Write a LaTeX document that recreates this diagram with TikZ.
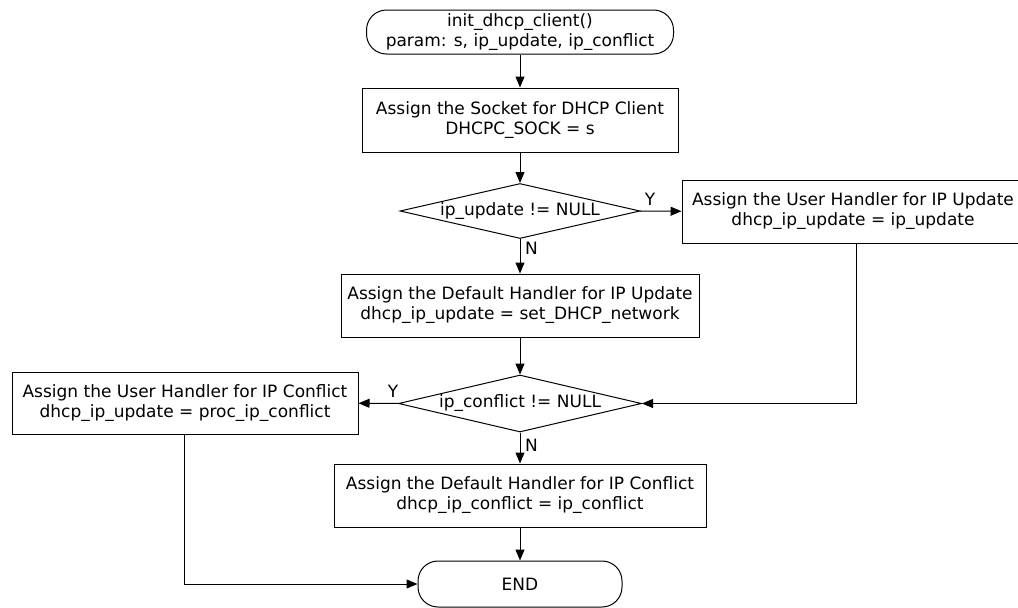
\documentclass[tikz,border=0pt]{standalone}
\usepackage{fontspec}
\setmainfont{DejaVu Sans}
\usetikzlibrary{shapes.geometric,arrows.meta}
\begin{document}
\begin{tikzpicture}[x=1pt,y=-1pt]
\tikzset{
  base/.style={draw, line width=1pt, font=\fontsize{17}{20}\selectfont, align=center, inner sep=0pt},
  procbox/.style={base, rectangle},
  term/.style={base, rectangle, rounded corners=20pt},
  decision/.style={base, diamond, aspect=4.36},
  flow/.style={line width=1pt, -{Triangle[length=11pt,width=9pt]}},
  lbl/.style={font=\fontsize{17}{20}\selectfont, inner sep=0pt}
}
\useasboundingbox (0,0) rectangle (1018,608);
\clip (0,0) rectangle (1018,608);
\fill[white] (0,0) rectangle (1018,608);

\node[term, minimum width=307pt, minimum height=44pt] (start) at (520,32)
  {init\_dhcp\_client()\\param: s, ip\_update, ip\_conflict};
\node[procbox, minimum width=316pt, minimum height=64pt] (sock) at (520,120)
  {Assign the Socket for DHCP Client\\DHCPC\_SOCK = s};
\node[decision, minimum width=240pt, minimum height=55pt] (dup) at (520,211)
  {ip\_update != NULL};
\node[procbox, minimum width=342pt, minimum height=63pt] (uup) at (853,211.5)
  {Assign the User Handler for IP Update\\dhcp\_ip\_update = ip\_update};
\node[procbox, minimum width=358pt, minimum height=63pt] (dfu) at (520,305.5)
  {Assign the Default Handler for IP Update\\dhcp\_ip\_update = set\_DHCP\_network};
\node[decision, minimum width=243pt, minimum height=57pt] (dcf) at (520,403.5)
  {ip\_conflict != NULL};
\node[procbox, minimum width=346pt, minimum height=62pt] (ucf) at (185,403)
  {Assign the User Handler for IP Conflict\\dhcp\_ip\_update = proc\_ip\_conflict};
\node[procbox, minimum width=372pt, minimum height=63pt] (dfc) at (520,495.5)
  {Assign the Default Handler for IP Conflict\\dhcp\_ip\_conflict = ip\_conflict};
\node[term, minimum width=204pt, minimum height=46pt] (fin) at (520,584) {END};

\draw[flow] (start) -- (sock);
\draw[flow] (sock) -- (dup);
\draw[flow] (dup) -- (uup);
\draw[flow] (dup) -- (dfu);
\draw[flow] (dfu) -- (dcf);
\draw[flow] (dcf) -- (ucf);
\draw[flow] (dcf) -- (dfc);
\draw[flow] (dfc) -- (fin);
\draw[flow] (uup.south -| 856,0) |- (dcf.east);
\draw[flow] (ucf.south -| 184,0) |- (fin.west);

\node[lbl] (y1) at (650,199) {Y};
\node[lbl, anchor=west] (n1) at (525,248) {N};
\node[lbl] (y2) at (393,391) {Y};
\node[lbl, anchor=west] (n2) at (525,445) {N};
\end{tikzpicture}
\end{document}
